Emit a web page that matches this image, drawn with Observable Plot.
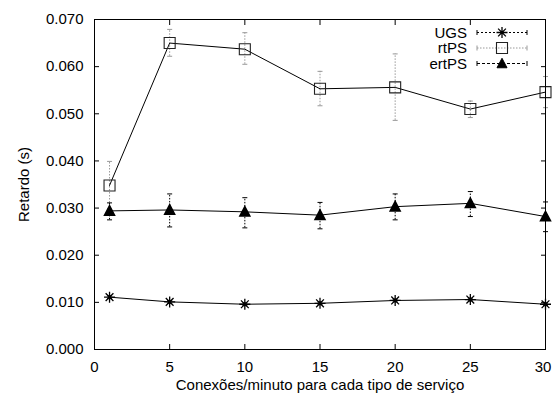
<!DOCTYPE html>
<html><head><meta charset="utf-8">
<script src="https://cdn.jsdelivr.net/npm/d3@7"></script>
<script src="https://cdn.jsdelivr.net/npm/@observablehq/plot@0.6"></script>
<style>body{margin:0;background:#fff}</style>
</head><body><div id="chart"></div>
<script>
// ---- data ----
const conexoes = [1, 5, 10, 15, 20, 25, 30];
const ugs      = [0.0111, 0.0101, 0.0096, 0.0098, 0.0104, 0.0106, 0.0096];
const ugsLow   = [0.0108, 0.0098, 0.0093, 0.0095, 0.0101, 0.0103, 0.0093];
const ugsHigh  = [0.0114, 0.0104, 0.0099, 0.0101, 0.0107, 0.0109, 0.0099];
const rtps     = [0.0348, 0.0650, 0.0637, 0.0553, 0.0556, 0.0510, 0.0546];
const rtpsLow  = [0.0298, 0.0622, 0.0605, 0.0517, 0.0486, 0.0492, 0.0513];
const rtpsHigh = [0.0399, 0.0679, 0.0672, 0.0590, 0.0627, 0.0527, 0.0579];
const ertps    = [0.0294, 0.0296, 0.0292, 0.0285, 0.0303, 0.0310, 0.0282];
const ertpsLow = [0.0275, 0.0260, 0.0258, 0.0256, 0.0275, 0.0282, 0.0250];
const ertpsHigh= [0.0311, 0.0330, 0.0322, 0.0312, 0.0330, 0.0335, 0.0313];
const xTicks = [0, 5, 10, 15, 20, 25, 30];
const yTicks = [0, 0.01, 0.02, 0.03, 0.04, 0.05, 0.06, 0.07];
const seriesNames = ["UGS", "rtPS", "ertPS"];
const xLabel = "Conexões/minuto para cada tipo de serviço";
const yLabel = "Retardo (s)";

const rows = conexoes.map((x, i) => ({
  x, ugs: ugs[i], ugsLow: ugsLow[i], ugsHigh: ugsHigh[i],
  rtps: rtps[i], rtpsLow: rtpsLow[i], rtpsHigh: rtpsHigh[i],
  ertps: ertps[i], ertpsLow: ertpsLow[i], ertpsHigh: ertpsHigh[i]
}));

// ---- custom symbols (size = pi*r^2) ----
const R = s => Math.sqrt(s / Math.PI);
const star = {draw(c, s) { const r = R(s), d = r * Math.SQRT1_2;
  c.moveTo(-r, 0); c.lineTo(r, 0); c.moveTo(0, -r); c.lineTo(0, r);
  c.moveTo(-d, -d); c.lineTo(d, d); c.moveTo(-d, d); c.lineTo(d, -d); }};
const cap = {draw(c, s) { const r = R(s); c.moveTo(-r, 0); c.lineTo(r, 0); }};
const box = {draw(c, s) { const r = R(s); c.rect(-r, -r, 2 * r, 2 * r); }};
const tri = {draw(c, s) { const r = R(s);
  c.moveTo(0, -r * 1.05); c.lineTo(r, r * 0.85); c.lineTo(-r, r * 0.85); c.closePath(); }};

const W = 552, H = 399, mT = 19, mB = 50, mL = 94, mR = 7;
const grey = "#999";
const FONT = "'Liberation Sans', Arial, sans-serif";

const errMarks = (lo, hi, color, dash) => [
  Plot.ruleX(rows, {x: "x", y1: lo, y2: hi, stroke: color, strokeWidth: 1, strokeDasharray: dash}),
  Plot.dot(rows, {x: "x", y: lo, symbol: cap, r: 2.5, stroke: color, strokeWidth: 1}),
  Plot.dot(rows, {x: "x", y: hi, symbol: cap, r: 2.5, stroke: color, strokeWidth: 1})
];

const chart = Plot.plot({
  width: W, height: H,
  marginTop: mT, marginBottom: mB, marginLeft: mL, marginRight: mR,
  style: {fontFamily: FONT, fontSize: "15px", background: "white", color: "black"},
  x: {domain: [0, 30]},
  y: {domain: [0, 0.07]},
  marks: [
    ...errMarks("rtpsLow", "rtpsHigh", grey, "1.5,1.5"),
    ...errMarks("ertpsLow", "ertpsHigh", "black", "1.5,1.5"),
    ...errMarks("ugsLow", "ugsHigh", "black", "1.5,1.5"),
    Plot.line(rows, {x: "x", y: "ugs", stroke: "black", strokeWidth: 1}),
    Plot.line(rows, {x: "x", y: "rtps", stroke: "black", strokeWidth: 1}),
    Plot.line(rows, {x: "x", y: "ertps", stroke: "black", strokeWidth: 1}),
    Plot.dot(rows, {x: "x", y: "ugs", symbol: star, r: 5.5, stroke: "black", strokeWidth: 1.3}),
    Plot.dot(rows, {x: "x", y: "rtps", symbol: box, r: 5.5, stroke: "#222", strokeWidth: 1.1, fill: "none"}),
    Plot.dot(rows, {x: "x", y: "ertps", symbol: tri, r: 5, fill: "black", stroke: "black"}),
    Plot.axisY(yTicks, {anchor: "left", tickSize: 0, tickPadding: 11, tickFormat: d3.format(".3f"),
      label: yLabel, labelAnchor: "center", labelArrow: "none", labelOffset: 76}),
    Plot.axisY(yTicks, {anchor: "left", tickSize: -5, tickFormat: () => "", label: null}),
    Plot.axisY(yTicks, {anchor: "right", tickSize: -5, tickFormat: () => "", label: null}),
    Plot.axisX(xTicks.slice(0, -1), {anchor: "bottom", tickSize: 0, tickPadding: 12, tickFormat: d3.format("d"),
      label: xLabel, labelAnchor: "center", labelArrow: "none", labelOffset: 40}),
    Plot.axisX(xTicks.slice(-1), {anchor: "bottom", tickSize: 0, tickPadding: 12, tickFormat: d3.format("d"),
      label: null, dx: -2.5}),
    Plot.axisX(xTicks, {anchor: "bottom", tickSize: -5, tickFormat: () => "", label: null}),
    Plot.axisX(xTicks, {anchor: "top", tickSize: -5, tickFormat: () => "", label: null}),
    Plot.frame({stroke: "black", strokeWidth: 1})
  ]
});
document.getElementById("chart").appendChild(chart);

// ---- legend (inside, top right, gnuplot style) ----
const svg = d3.select(chart);
const lg = svg.append("g").attr("font-family", FONT).attr("font-size", 15);
const styles = [
  {stroke: "black", dash: "2,2", sym: star, r: 5.5, fill: "none", sw: 1.3, mk: "black"},
  {stroke: grey, dash: "1.5,1.5", sym: box, r: 5.5, fill: "none", sw: 1.1, mk: "#222"},
  {stroke: "black", dash: "3,2", sym: tri, r: 5, fill: "black", sw: 1, mk: "black"}
];
const textRight = W - mR - 78, x0 = W - mR - 68, x1 = W - mR - 18, rowY = [32.5, 48, 63.5];
seriesNames.forEach((name, i) => {
  const y = rowY[i], st = styles[i];
  lg.append("text").attr("x", textRight).attr("y", y).attr("dy", "0.35em").attr("text-anchor", "end").text(name);
  lg.append("line").attr("x1", x0).attr("x2", x1).attr("y1", y).attr("y2", y)
    .attr("stroke", st.stroke).attr("stroke-dasharray", st.dash);
  [x0, x1].forEach(xx => lg.append("line").attr("x1", xx).attr("x2", xx).attr("y1", y - 2.5).attr("y2", y + 2.5).attr("stroke", st.stroke));
  lg.append("path").attr("transform", `translate(${(x0 + x1) / 2},${y})`)
    .attr("d", d3.symbol(st.sym, Math.PI * st.r * st.r)())
    .attr("fill", st.fill).attr("stroke", st.mk).attr("stroke-width", st.sw);
});
</script>
</body></html>
